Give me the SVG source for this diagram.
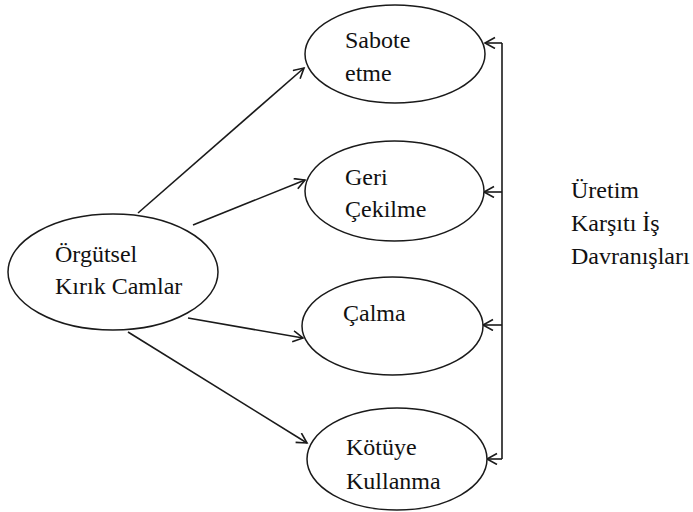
<svg xmlns="http://www.w3.org/2000/svg" width="693" height="512" viewBox="0 0 693 512">
<defs>
<style>
.n{fill:#fff;stroke:#1a1a1a;stroke-width:1.5}
.t{font-size:24px;fill:#111}
.c{fill:none;stroke:#1a1a1a;stroke-width:1.6}
</style>
<marker id="ah" markerWidth="14" markerHeight="14" refX="11" refY="6" orient="auto" markerUnits="userSpaceOnUse">
<polyline points="1,0.5 11,6 1,11.5" fill="none" stroke="#1a1a1a" stroke-width="1.6"/>
</marker>
</defs>
<rect width="693" height="512" fill="#fff"/>
<g id="connectors">
<line class="c" x1="138" y1="213" x2="304" y2="68" marker-end="url(#ah)"/>
<line class="c" x1="193" y1="225" x2="305" y2="180" marker-end="url(#ah)"/>
<line class="c" x1="188" y1="318" x2="303" y2="338" marker-end="url(#ah)"/>
<line class="c" x1="128" y1="332" x2="307" y2="443" marker-end="url(#ah)"/>
<line class="c" x1="502" y1="43" x2="502" y2="459"/>
<line class="c" x1="502" y1="43" x2="485" y2="43" marker-end="url(#ah)"/>
<line class="c" x1="502" y1="192" x2="484" y2="192" marker-end="url(#ah)"/>
<line class="c" x1="502" y1="325" x2="483" y2="325" marker-end="url(#ah)"/>
<line class="c" x1="502" y1="459" x2="487" y2="459" marker-end="url(#ah)"/>
</g>
<g id="orgutsel" font-family="Liberation Serif">
<ellipse class="n" cx="113" cy="272" rx="105" ry="58"/>
<text class="t" x="55" y="262">Örgütsel</text>
<text class="t" x="55" y="294">Kırık Camlar</text>
</g>
<g id="sabote" font-family="Liberation Serif">
<ellipse class="n" cx="395" cy="54" rx="90" ry="49"/>
<text class="t" x="345" y="48">Sabote</text>
<text class="t" x="345" y="81">etme</text>
</g>
<g id="geri" font-family="Liberation Serif">
<ellipse class="n" cx="394.5" cy="191" rx="89.5" ry="50"/>
<text class="t" x="345" y="185">Geri</text>
<text class="t" x="345" y="217">Çekilme</text>
</g>
<g id="calma" font-family="Liberation Serif">
<ellipse class="n" cx="392.5" cy="326" rx="90.5" ry="49"/>
<text class="t" x="343" y="321">Çalma</text>
</g>
<g id="kotuye" font-family="Liberation Serif">
<ellipse class="n" cx="397" cy="459" rx="90" ry="51"/>
<text class="t" x="346" y="455">Kötüye</text>
<text class="t" x="346" y="489">Kullanma</text>
</g>
<g id="uretim" font-family="Liberation Serif">
<text class="t" x="571" y="198">Üretim</text>
<text class="t" x="571" y="231">Karşıtı İş</text>
<text class="t" x="571" y="264">Davranışları</text>
</g>
</svg>
